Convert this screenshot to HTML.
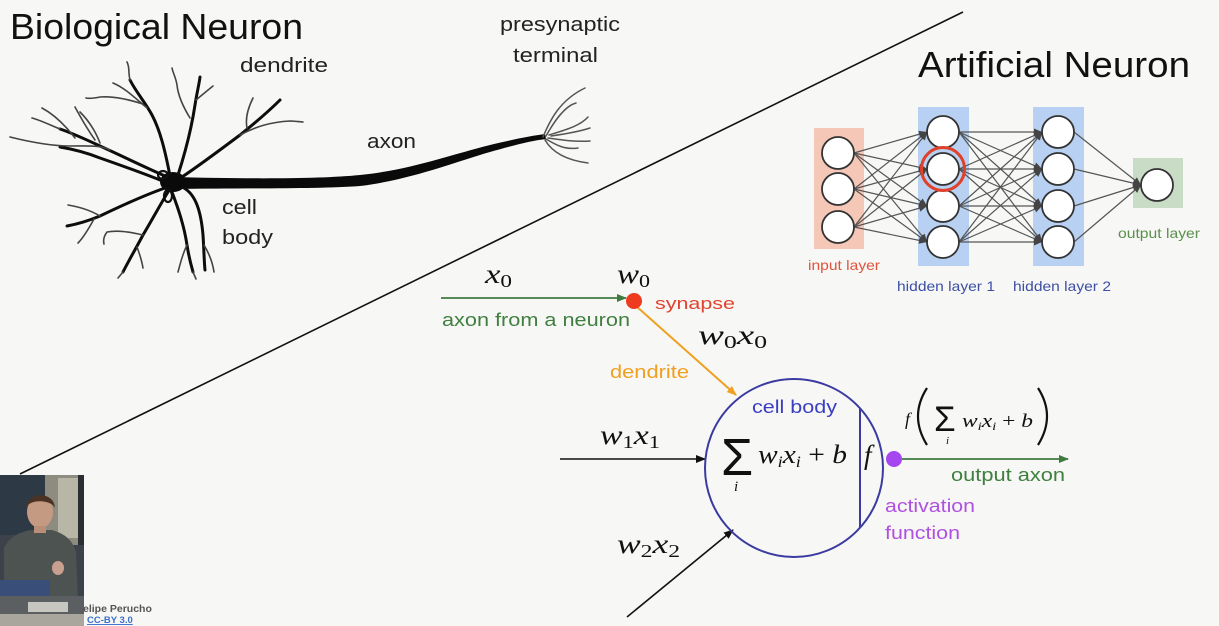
<!DOCTYPE html>
<html><head><meta charset="utf-8">
<style>
html,body{margin:0;padding:0;background:#f7f7f5;}
svg{display:block;}
text{font-family:"Liberation Sans",sans-serif;}
.m{font-family:"Liberation Serif",serif;font-style:italic;fill:#111;}
.s{font-style:normal;}
</style></head>
<body>
<svg width="1219" height="626" viewBox="0 0 1219 626" xmlns="http://www.w3.org/2000/svg">
<defs>
<marker id="ag" markerWidth="10" markerHeight="8" refX="9" refY="4" orient="auto" markerUnits="userSpaceOnUse"><path d="M0,0 L10,4 L0,8 Z" fill="#3f7a3f"/></marker>
<marker id="ab" markerWidth="10" markerHeight="8" refX="9" refY="4" orient="auto" markerUnits="userSpaceOnUse"><path d="M0,0 L10,4 L0,8 Z" fill="#111"/></marker>
<marker id="ao" markerWidth="10" markerHeight="8" refX="9" refY="4" orient="auto" markerUnits="userSpaceOnUse"><path d="M0,0 L10,4 L0,8 Z" fill="#f0a020"/></marker>
<marker id="an" markerWidth="8" markerHeight="7" refX="8" refY="3.5" orient="auto" markerUnits="userSpaceOnUse"><path d="M0,0 L8,3.5 L0,7 Z" fill="#444"/></marker>
</defs>
<rect width="1219" height="626" fill="#f7f7f5"/>

<!-- titles -->
<text x="10" y="39" font-size="36" fill="#111" textLength="293" lengthAdjust="spacingAndGlyphs">Biological Neuron</text>
<text x="918" y="77" font-size="36" fill="#111" textLength="272" lengthAdjust="spacingAndGlyphs">Artificial Neuron</text>

<!-- diagonal -->
<line x1="963" y1="12" x2="20" y2="474" stroke="#111" stroke-width="1.6"/>

<!-- biological neuron labels -->
<text x="240" y="72" font-size="20" fill="#222" textLength="88" lengthAdjust="spacingAndGlyphs">dendrite</text>
<text x="500" y="31" font-size="20" fill="#222" textLength="120" lengthAdjust="spacingAndGlyphs">presynaptic</text>
<text x="513" y="62" font-size="20" fill="#222" textLength="85" lengthAdjust="spacingAndGlyphs">terminal</text>
<text x="367" y="148" font-size="20" fill="#222" textLength="49" lengthAdjust="spacingAndGlyphs">axon</text>
<text x="222" y="214" font-size="20" fill="#222" textLength="35" lengthAdjust="spacingAndGlyphs">cell</text>
<text x="222" y="244" font-size="20" fill="#222" textLength="51" lengthAdjust="spacingAndGlyphs">body</text>

<!-- biological neuron drawing -->
<g fill="none" stroke-linecap="round" stroke-linejoin="round">
<path d="M172,177 C250,179 320,179 360,175 C410,170 450,155 490,145 C515,139 530,136 545,134 L546,139 C530,141 515,145 490,152 C455,162 410,180 360,186 C320,189 250,188 172,189 Z" fill="#0a0a0a" stroke="none"/>
<g stroke="#555" stroke-width="1.5">
<path d="M543,137 C550,120 560,100 585,88"/>
<path d="M546,136 C555,120 565,106 576,103"/>
<path d="M549,135 C565,130 580,126 588,117"/>
<path d="M551,136 C565,134 578,132 590,128"/>
<path d="M548,138 C562,140 575,142 590,141"/>
<path d="M546,139 C556,145 565,150 578,148"/>
<path d="M545,140 C552,152 565,160 588,163"/>
</g>
<ellipse cx="173" cy="182" rx="13" ry="10" fill="#0a0a0a"/>
<ellipse cx="163" cy="175" rx="5" ry="4" stroke="#111" stroke-width="2.2"/>
<ellipse cx="168" cy="196" rx="4" ry="6" stroke="#111" stroke-width="2.2"/>
<g stroke="#0d0d0d" stroke-width="3">
<path d="M170,176 C165,150 160,130 152,115 C145,102 136,92 130,80"/>
<path d="M178,175 C186,150 192,125 195,105 C197,92 199,85 200,77"/>
<path d="M182,177 C200,165 220,150 240,135 C255,123 268,112 280,100"/>
<path d="M165,176 C140,165 120,155 100,146 C85,139 72,133 60,129"/>
<path d="M160,180 C140,172 120,165 100,158 C85,152 72,149 60,147"/>
<path d="M165,188 C145,195 125,204 100,216 C88,221 78,224 67,226"/>
<path d="M168,192 C160,205 152,220 143,235 C135,250 128,262 123,272"/>
<path d="M172,192 C178,208 184,225 187,245 C189,258 191,265 193,272"/>
<path d="M184,188 C196,195 201,212 203,235 C204,250 204,260 205,270"/>
</g>
<g stroke="#444" stroke-width="1.6">
<path d="M130,80 C128,72 130,68 127,62"/>
<path d="M147,108 C135,98 125,88 113,83"/>
<path d="M143,104 C130,100 115,96 100,97 C95,98 90,99 86,98"/>
<path d="M190,118 C182,105 178,95 177,85 C176,78 173,73 172,68"/>
<path d="M196,100 C202,95 208,90 213,86"/>
<path d="M240,135 C255,127 270,122 290,121 C295,121 300,122 303,122"/>
<path d="M247,128 C245,118 248,108 253,98"/>
<path d="M110,150 C100,145 90,146 70,146 C50,146 30,142 10,137"/>
<path d="M100,143 C95,130 88,120 80,112"/>
<path d="M95,140 C88,130 82,120 75,107"/>
<path d="M75,138 C65,125 55,115 42,108"/>
<path d="M60,129 C50,125 40,120 32,118"/>
<path d="M100,216 C90,210 80,207 68,205"/>
<path d="M94,219 C88,230 83,238 78,243"/>
<path d="M143,235 C130,232 118,230 107,232 C104,236 103,240 104,244"/>
<path d="M137,247 C140,255 142,262 143,268"/>
<path d="M123,272 L118,278"/>
<path d="M187,245 C182,255 180,265 178,272"/>
<path d="M193,272 L196,279"/>
<path d="M204,245 C210,255 213,265 214,272"/>
</g>
</g>

<!-- neural network -->
<rect x="814" y="128" width="50" height="121" fill="#f5c7b7"/>
<rect x="918" y="107" width="51" height="159" fill="#b8d1f2"/>
<rect x="1033" y="107" width="51" height="159" fill="#b8d1f2"/>
<rect x="1133" y="158" width="50" height="50" fill="#c9dcc6"/>
<g stroke="#555" stroke-width="1.2" marker-end="url(#an)">
<line x1="854" y1="153" x2="927" y2="132"/><line x1="854" y1="153" x2="927" y2="169"/><line x1="854" y1="153" x2="927" y2="206"/><line x1="854" y1="153" x2="927" y2="242"/>
<line x1="854" y1="189" x2="927" y2="132"/><line x1="854" y1="189" x2="927" y2="169"/><line x1="854" y1="189" x2="927" y2="206"/><line x1="854" y1="189" x2="927" y2="242"/>
<line x1="854" y1="227" x2="927" y2="132"/><line x1="854" y1="227" x2="927" y2="169"/><line x1="854" y1="227" x2="927" y2="206"/><line x1="854" y1="227" x2="927" y2="242"/>
<line x1="959" y1="132" x2="1042" y2="132"/><line x1="959" y1="132" x2="1042" y2="169"/><line x1="959" y1="132" x2="1042" y2="206"/><line x1="959" y1="132" x2="1042" y2="242"/>
<line x1="959" y1="169" x2="1042" y2="132"/><line x1="959" y1="169" x2="1042" y2="169"/><line x1="959" y1="169" x2="1042" y2="206"/><line x1="959" y1="169" x2="1042" y2="242"/>
<line x1="959" y1="206" x2="1042" y2="132"/><line x1="959" y1="206" x2="1042" y2="169"/><line x1="959" y1="206" x2="1042" y2="206"/><line x1="959" y1="206" x2="1042" y2="242"/>
<line x1="959" y1="242" x2="1042" y2="132"/><line x1="959" y1="242" x2="1042" y2="169"/><line x1="959" y1="242" x2="1042" y2="206"/><line x1="959" y1="242" x2="1042" y2="242"/>
<line x1="1074" y1="132" x2="1141" y2="185"/><line x1="1074" y1="169" x2="1141" y2="185"/><line x1="1074" y1="206" x2="1141" y2="185"/><line x1="1074" y1="242" x2="1141" y2="185"/>
</g>
<g fill="#fff" stroke="#333" stroke-width="1.8">
<circle cx="838" cy="153" r="16"/><circle cx="838" cy="189" r="16"/><circle cx="838" cy="227" r="16"/>
<circle cx="943" cy="132" r="16"/><circle cx="943" cy="169" r="16"/><circle cx="943" cy="206" r="16"/><circle cx="943" cy="242" r="16"/>
<circle cx="1058" cy="132" r="16"/><circle cx="1058" cy="169" r="16"/><circle cx="1058" cy="206" r="16"/><circle cx="1058" cy="242" r="16"/>
<circle cx="1157" cy="185" r="16"/>
</g>
<circle cx="943" cy="169" r="21.5" fill="none" stroke="#e0412a" stroke-width="3"/>
<text x="808" y="270" font-size="14" fill="#e0533c" textLength="72" lengthAdjust="spacingAndGlyphs">input layer</text>
<text x="897" y="291" font-size="14" fill="#3d4fa5" textLength="98" lengthAdjust="spacingAndGlyphs">hidden layer 1</text>
<text x="1013" y="291" font-size="14" fill="#3d4fa5" textLength="98" lengthAdjust="spacingAndGlyphs">hidden layer 2</text>
<text x="1118" y="238" font-size="14" fill="#5a8f4c" textLength="82" lengthAdjust="spacingAndGlyphs">output layer</text>

<!-- artificial neuron model -->
<line x1="441" y1="298" x2="626" y2="298" stroke="#3f7a3f" stroke-width="1.8" marker-end="url(#ag)"/>
<line x1="636" y1="306" x2="736" y2="395" stroke="#f0a020" stroke-width="2" marker-end="url(#ao)"/>
<circle cx="634" cy="301" r="8" fill="#ee3a1f"/>
<line x1="560" y1="459" x2="705" y2="459" stroke="#111" stroke-width="1.6" marker-end="url(#ab)"/>
<line x1="627" y1="617" x2="733" y2="530" stroke="#111" stroke-width="1.6" marker-end="url(#ab)"/>
<circle cx="794" cy="468" r="89" fill="none" stroke="#3a3aa0" stroke-width="2"/>
<line x1="860" y1="408" x2="860" y2="528" stroke="#3a3aa0" stroke-width="2"/>
<line x1="902" y1="459" x2="1068" y2="459" stroke="#3f7a3f" stroke-width="1.8" marker-end="url(#ag)"/>
<circle cx="894" cy="459" r="8" fill="#a646f0"/>

<!-- math labels -->
<text class="m" x="485" y="283" font-size="27" textLength="27" lengthAdjust="spacingAndGlyphs">x<tspan class="s" font-size="18" dy="4">0</tspan></text>
<text class="m" x="617" y="283" font-size="27" textLength="33" lengthAdjust="spacingAndGlyphs">w<tspan class="s" font-size="18" dy="4">0</tspan></text>
<text class="m" x="698" y="344" font-size="27" textLength="69" lengthAdjust="spacingAndGlyphs">w<tspan class="s" font-size="18" dy="4">0</tspan><tspan dy="-4">x</tspan><tspan class="s" font-size="18" dy="4">0</tspan></text>
<text class="m" x="600" y="444" font-size="27" textLength="60" lengthAdjust="spacingAndGlyphs">w<tspan class="s" font-size="18" dy="4">1</tspan><tspan dy="-4">x</tspan><tspan class="s" font-size="18" dy="4">1</tspan></text>
<text class="m" x="617" y="553" font-size="27" textLength="63" lengthAdjust="spacingAndGlyphs">w<tspan class="s" font-size="18" dy="4">2</tspan><tspan dy="-4">x</tspan><tspan class="s" font-size="18" dy="4">2</tspan></text>

<text x="721" y="475" font-size="52" fill="#111" font-family="'Liberation Serif',serif">Σ</text>
<text class="m" x="734" y="491" font-size="15">i</text>
<text class="m" x="758" y="463" font-size="26" textLength="89" lengthAdjust="spacingAndGlyphs">w<tspan font-size="16" dy="4">i</tspan><tspan dy="-4">x</tspan><tspan font-size="16" dy="4">i</tspan><tspan class="s" dy="-4"> + </tspan>b</text>
<text class="m" x="864" y="464" font-size="27">f</text>

<text class="m" x="905" y="425" font-size="18">f</text>
<path d="M927,388 Q909,416 927,445" fill="none" stroke="#111" stroke-width="2.2"/>
<text x="934" y="431" font-size="35" fill="#111" font-family="'Liberation Serif',serif">Σ</text>
<text class="m" x="946" y="444" font-size="11">i</text>
<text class="m" x="962" y="427" font-size="19" textLength="71" lengthAdjust="spacingAndGlyphs">w<tspan font-size="12" dy="3">i</tspan><tspan dy="-3">x</tspan><tspan font-size="12" dy="3">i</tspan><tspan class="s" dy="-3"> + </tspan>b</text>
<path d="M1038,388 Q1056,416 1038,445" fill="none" stroke="#111" stroke-width="2.2"/>

<!-- colored labels -->
<text x="655" y="309" font-size="17" fill="#e0442e" textLength="80" lengthAdjust="spacingAndGlyphs">synapse</text>
<text x="442" y="326" font-size="18" fill="#3f7f3f" textLength="188" lengthAdjust="spacingAndGlyphs">axon from a neuron</text>
<text x="610" y="378" font-size="18" fill="#f0a020" textLength="79" lengthAdjust="spacingAndGlyphs">dendrite</text>
<text x="752" y="413" font-size="18" fill="#3a3fc0" textLength="85" lengthAdjust="spacingAndGlyphs">cell body</text>
<text x="951" y="481" font-size="18" fill="#3f7f3f" textLength="114" lengthAdjust="spacingAndGlyphs">output axon</text>
<text x="885" y="512" font-size="18" fill="#b050e0" textLength="90" lengthAdjust="spacingAndGlyphs">activation</text>
<text x="885" y="539" font-size="18" fill="#b050e0" textLength="75" lengthAdjust="spacingAndGlyphs">function</text>

<!-- video inset -->
<g>
<rect x="0" y="475" width="84" height="151" fill="#3b4249"/>
<rect x="0" y="475" width="45" height="60" fill="#2e3946"/>
<rect x="45" y="475" width="39" height="70" fill="#8e8c80"/>
<rect x="58" y="478" width="20" height="60" fill="#b8b6a6"/>
<rect x="78" y="475" width="6" height="70" fill="#2a2e32"/>
<path d="M4,548 C10,535 22,532 30,530 L52,530 C62,533 72,538 76,552 L78,600 L4,600 Z" fill="#4c5350"/>
<ellipse cx="40" cy="512" rx="13" ry="16" fill="#c49a82"/>
<path d="M26,508 C26,492 54,490 55,508 C52,500 30,498 26,508 Z" fill="#4a3322"/>
<rect x="34" y="526" width="12" height="7" fill="#b98e78"/>
<ellipse cx="58" cy="568" rx="6" ry="7" fill="#c8a090"/>
<rect x="0" y="580" width="50" height="24" fill="#3a4e7a"/>
<rect x="0" y="596" width="84" height="18" fill="#5c5f62"/>
<rect x="28" y="602" width="40" height="10" fill="#c8c6c0"/>
<rect x="0" y="614" width="84" height="12" fill="#a9a69e"/>
</g>
<text x="83" y="612" font-size="10.5" fill="#555" font-weight="bold">elipe Perucho</text>
<text x="87" y="623" font-size="9.5" fill="#3a6fd0" font-weight="bold" text-decoration="underline">CC-BY 3.0</text>
</svg>
</body></html>
